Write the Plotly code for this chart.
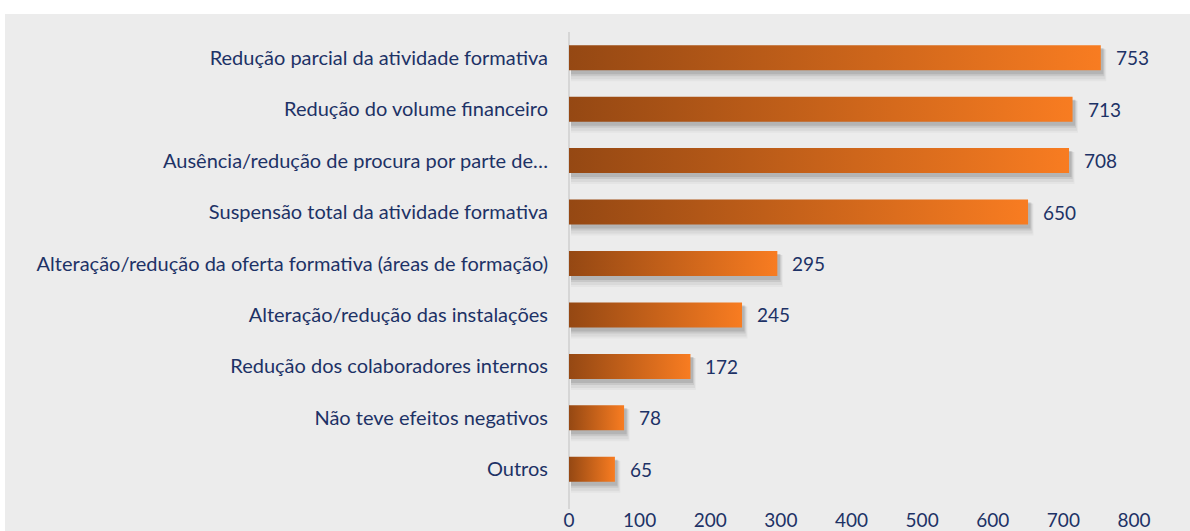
import plotly.graph_objects as go

categories = [
    "Redução parcial da atividade formativa",
    "Redução do volume financeiro",
    "Ausência/redução de procura por parte de…",
    "Suspensão total da atividade formativa",
    "Alteração/redução da oferta formativa (áreas de formação)",
    "Alteração/redução das instalações",
    "Redução dos colaboradores internos",
    "Não teve efeitos negativos",
    "Outros",
]
values = [753, 713, 708, 650, 295, 245, 172, 78, 65]
x_ticks = [0, 100, 200, 300, 400, 500, 600, 700, 800]

LEFT_COL = "#954813"
RIGHT_COL = "#f87c21"
TEXT_COL = "#1d3266"
FONT = "Lato"
FS = 20

W, H = 1190, 531
ML, MR, MT, MB = 569, 56, 32, 36
plot_w = W - ML - MR
plot_h = H - MT - MB
ux = 800 / plot_w          # data units per pixel (x)
uy = 9 / plot_h            # data units per pixel (y)
half = 12.5 * uy           # bar half height (25 px)

fig = go.Figure()

# shadow layers
shadow_layers = [(2, 3, 1, 0.10), (2, 3, 3, 0.07), (2, 4, 5, 0.05), (2, 4, 7, 0.03)]
for dxp, dyp, sp, a in shadow_layers:
    xs, ys = [], []
    for i, v in enumerate(values):
        x0 = 0 + dxp * ux
        x1 = v + (dxp + sp * 0.5) * ux
        y0 = i - half + dyp * uy
        y1 = i + half + (dyp + sp) * uy
        xs += [x0, x1, x1, x0, x0, None]
        ys += [y0, y0, y1, y1, y0, None]
    fig.add_trace(go.Scatter(x=xs, y=ys, mode="lines", line=dict(width=0),
                             fill="toself", fillcolor=f"rgba(0,0,0,{a})",
                             hoverinfo="skip", showlegend=False))

# gradient bars
for i, v in enumerate(values):
    fig.add_trace(go.Scatter(
        x=[0, v, v, 0, 0], y=[i - half, i - half, i + half, i + half, i - half],
        mode="lines", line=dict(width=0), fill="toself",
        fillgradient=dict(type="horizontal",
                          colorscale=[[0, LEFT_COL], [1, RIGHT_COL]]),
        hoverinfo="skip", showlegend=False))

for i, v in enumerate(values):
    fig.add_annotation(x=v, y=i, text=str(v), showarrow=False, xanchor="left",
                       xshift=13, font=dict(family=FONT, size=FS - 1, color=TEXT_COL))

# background panel
fig.add_shape(type="rect", xref="paper", yref="paper",
              x0=(5 - ML) / plot_w, x1=(W + 5 - ML) / plot_w,
              y0=-(MB + 5) / plot_h, y1=(H - MB - 14) / plot_h,
              fillcolor="#ececec", line=dict(width=0), layer="below")
# vertical axis line (at x = 0, extends a little below the plot area)
fig.add_shape(type="line", xref="paper", yref="paper", x0=0, x1=0,
              y0=-14 / plot_h, y1=1,
              line=dict(color="#d6d6d6", width=2), layer="below")

fig.update_layout(
    width=W, height=H,
    margin=dict(l=ML, r=MR, t=MT, b=MB),
    paper_bgcolor="white", plot_bgcolor="#ececec",
    font=dict(family=FONT, size=FS, color=TEXT_COL),
    showlegend=False,
    xaxis=dict(range=[0, 800], tickvals=x_ticks, showgrid=False, zeroline=False,
               showline=False, ticks="outside", ticklen=8, automargin=False,
               tickcolor="rgba(0,0,0,0)", tickfont=dict(size=FS - 1, color=TEXT_COL)),
    yaxis=dict(range=[8.5, -0.5], tickvals=list(range(len(categories))),
               ticktext=categories, showgrid=False, zeroline=False,
               showline=False, ticks="outside", ticklen=16, automargin=False,
               tickcolor="rgba(0,0,0,0)", tickfont=dict(size=FS, color=TEXT_COL)),
)

fig.write_html("out.html", config={"displayModeBar": False},
               post_script="document.body.style.margin='0';document.body.style.overflow='hidden';")
